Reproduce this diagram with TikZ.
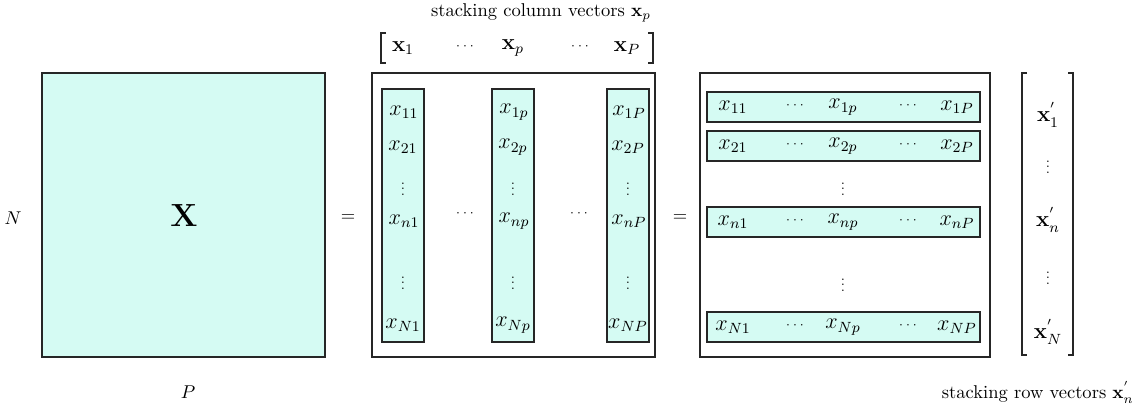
\documentclass[tikz,border=0pt]{standalone}
\definecolor{cellfill}{RGB}{213,251,243}
\newcommand\tightvdots{\vbox{\baselineskip=3pt\lineskiplimit=0pt\hbox{.}\hbox{.}\hbox{.}}}
\tikzset{
  matbox/.style={draw=black!85, line width=0.6pt},
  fillbox/.style={draw=black!85, fill=cellfill, line width=0.6pt},
  brk/.style={draw=black!85, line width=0.6pt},
  lab/.style={inner sep=1pt},
  ent/.style={inner sep=1pt, font=\large},
  dts/.style={inner sep=0pt, font=\scriptsize}
}
\begin{document}
\begin{tikzpicture}[x=0.54pt,y=-0.54pt]
\useasboundingbox (0,0) rectangle (1148,410);
% left matrix
\draw[fillbox] (42,73) rectangle (325,357);
\node[lab, font=\LARGE] (X) at (184,216) {$\mathbf{X}$};
\node[lab] (N) at (13,218) {$N$};
\node[lab] (P) at (188,392) {$P$};
\node[lab] (eqA) at (348,218) {$=$};
% middle: columns
\node[lab] (topcap) at (541,13) {stacking column vectors $\mathbf{x}_p$};
\draw[brk] (386,33) -- (381,33) -- (381,63) -- (386,63);
\draw[brk] (648,33) -- (653,33) -- (653,63) -- (648,63);
\node[ent] (v1) at (403,48) {$\mathbf{x}_1$};
\node[dts] (vd1) at (465,46) {$\cdots$};
\node[ent] (vp) at (513,48) {$\mathbf{x}_p$};
\node[dts] (vd2) at (580,46) {$\cdots$};
\node[ent] (vP) at (627,48) {$\mathbf{x}_P$};
\draw[matbox] (372,73) rectangle (655,357);
\foreach \xl/\c in {382/1,492/p,607/P}{
  \draw[fillbox] (\xl,89) rectangle ++(42,253);
  \node[ent] (c1\c) at (\xl+22,112) {$x_{1\c}$};
  \node[ent] (c2\c) at (\xl+21,147) {$x_{2\c}$};
  \node[dts] (cva\c) at (\xl+21,189) {\tightvdots};
  \node[ent] (cn\c) at (\xl+22,221) {$x_{n\c}$};
  \node[dts] (cvb\c) at (\xl+21,283) {\tightvdots};
  \node[ent] (cN\c) at (\xl+21,325) {$x_{N\c}$};
}
\node[dts] (hd1) at (465,213) {$\cdots$};
\node[dts] (hd2) at (579,213) {$\cdots$};
\node[lab] (eqB) at (680,218) {$=$};
% right: rows
\draw[matbox] (700,73) rectangle (990,357);
\foreach \y/\r in {92/1,131/2,207/n,312/N}{
  \draw[fillbox] (707,\y) rectangle (980,\y+30);
  \node[ent] (r\r1) at (733,\y+15) {$x_{\r1}$};
  \node[dts] (r\r d1) at (795,\y+13) {$\cdots$};
  \node[ent] (r\r p) at (843,\y+15) {$x_{\r p}$};
  \node[dts] (r\r d2) at (908,\y+13) {$\cdots$};
  \node[ent] (r\r P) at (957,\y+15) {$x_{\r P}$};
}
\node[dts] (rva) at (843,189) {\tightvdots};
\node[dts] (rvb) at (843,285) {\tightvdots};
% right bracket column
\draw[brk] (1027,73) -- (1022,73) -- (1022,355) -- (1027,355);
\draw[brk] (1068,73) -- (1073,73) -- (1073,355) -- (1068,355);
\node[ent] (w1) at (1048,115) {$\mathbf{x}_1^{'}$};
\node[dts] (wva) at (1048,167) {\tightvdots};
\node[ent] (wn) at (1048,220) {$\mathbf{x}_n^{'}$};
\node[dts] (wvb) at (1048,278) {\tightvdots};
\node[ent] (wN) at (1048,332) {$\mathbf{x}_N^{'}$};
\node[lab, anchor=east] (botcap) at (1136,392) {stacking row vectors $\mathbf{x}_n^{'}$};
\end{tikzpicture}
\end{document}
